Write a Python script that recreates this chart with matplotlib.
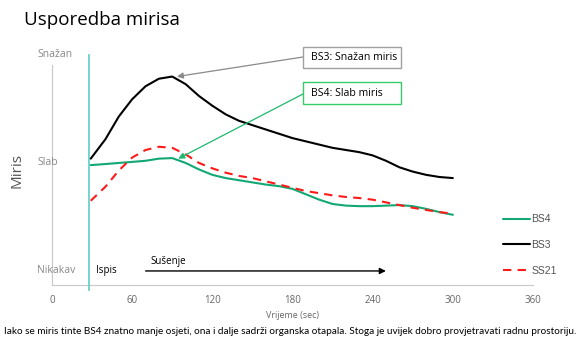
import matplotlib
matplotlib.use("Agg")
import matplotlib.pyplot as plt
from matplotlib.patches import Rectangle
import matplotlib.transforms as mtrans

# ---- data ----
time_s = [29, 40, 50, 60, 70, 80, 90, 100, 110, 120, 130, 140, 150, 160, 170, 180, 190, 200,
          210, 220, 230, 240, 250, 260, 270, 280, 290, 300]
bs4 = [0.98, 0.99, 1.00, 1.01, 1.02, 1.04, 1.045, 1.00, 0.94, 0.89, 0.86, 0.84, 0.82, 0.80,
       0.785, 0.76, 0.71, 0.66, 0.62, 0.605, 0.60, 0.60, 0.605, 0.61, 0.60, 0.575, 0.545, 0.52]
bs3 = [1.04, 1.22, 1.43, 1.59, 1.71, 1.78, 1.80, 1.73, 1.62, 1.53, 1.45, 1.39, 1.35, 1.31,
       1.27, 1.23, 1.20, 1.17, 1.14, 1.12, 1.10, 1.07, 1.02, 0.96, 0.92, 0.89, 0.87, 0.86]
ss21 = [0.65, 0.78, 0.93, 1.05, 1.12, 1.15, 1.14, 1.08, 1.00, 0.95, 0.91, 0.88, 0.86, 0.83,
        0.80, 0.77, 0.74, 0.72, 0.70, 0.685, 0.675, 0.66, 0.635, 0.61, 0.585, 0.565, 0.545, 0.53]
series_names = ["BS4", "BS3", "SS21"]
level_labels = ["Nikakav", "Slab", "Snažan"]
level_values = [0, 1, 2]
x_ticks = [0, 60, 120, 180, 240, 300, 360]
ispis_time = 28
drying_start, drying_end = 68, 252
bs3_peak = (93.5, 1.80)
bs4_peak = (94.5, 1.04)

title = "Usporedba mirisa"
caption = ("Iako se miris tinte BS4 znatno manje osjeti, ona i dalje sadrži organska otapala. "
           "Stoga je uvijek dobro provjetravati radnu prostoriju.")

W, H = 580, 341
fig = plt.figure(figsize=(W / 100, H / 100), dpi=100)
ax = fig.add_axes([52 / W, 1 - 285 / H, 481 / W, 220 / H])

green = "#12a873"
kw = dict(solid_joinstyle="round", solid_capstyle="round")
ax.plot(time_s, bs4, color=green, lw=1.5, label=series_names[0], zorder=4, **kw)
ax.plot(time_s, bs3, color="black", lw=1.5, label=series_names[1], zorder=4, **kw)
ax.plot(time_s, ss21, color="#ff1a1a", lw=1.5, ls=(0, (4, 3)), label=series_names[2], zorder=5)

ax.set_xlim(0, 360)
ax.set_ylim(-0.13, 1.907)
ax.set_xticks(x_ticks)
ax.set_xticklabels([str(t) for t in x_ticks], color="#666666", fontsize=7, family="Open Sans")
ax.tick_params(axis="x", length=0, pad=7)
ax.set_yticks([])
for s in ["top", "right"]:
    ax.spines[s].set_visible(False)
ax.spines["left"].set_color("#c8c8c8")
ax.spines["bottom"].set_color("#c8c8c8")
ax.set_xlabel("Vrijeme (sec)", color="#666666", fontsize=6.5, family="Open Sans", labelpad=4)

trans = mtrans.blended_transform_factory(fig.transFigure, ax.transData)
for lab, v in zip(level_labels, level_values):
    fig.text(37 / W, v, lab, transform=trans, ha="left", va="center",
             color="#888888", fontsize=7.5, family="Open Sans")
fig.text(17 / W, 1 - 170 / H, "Miris", rotation=90, ha="center", va="center",
         color="#555555", fontsize=11, family="Open Sans")

# Ispis vertical line
ax.plot([ispis_time, ispis_time], [-0.18, 2.0], color="#5ccdc2", lw=1.2, clip_on=False, zorder=3)
ax.text(ispis_time + 5, 0, "Ispis", fontsize=7, family="Open Sans", va="center", ha="left")

# Drying arrow
ax.annotate("", xy=(drying_end, 0), xytext=(drying_start, 0),
            arrowprops=dict(arrowstyle="-|>", color="black", lw=1.0, mutation_scale=9))
ax.text(drying_start + 6, 0.04, "Sušenje", fontsize=7, family="Open Sans", va="bottom", ha="left")

def box(x0, y0, x1, y1, ec, text):
    r = Rectangle((x0, H - y1), x1 - x0, y1 - y0, transform=None, fill=True,
                  facecolor="white", edgecolor=ec, lw=1.0, zorder=10)
    fig.patches.append(r)
    fig.text((x0 + 8) / W, 1 - (y0 + y1) / 2 / H, text, ha="left", va="center",
             fontsize=7.6, family="Open Sans", zorder=11)

ax.annotate("", xy=bs3_peak, xycoords="data", xytext=(303, H - 57), textcoords="figure pixels",
            arrowprops=dict(arrowstyle="-|>", color="#8a8a8a", lw=0.9, mutation_scale=9,
                            shrinkA=0, shrinkB=0), zorder=6, annotation_clip=False)
ax.annotate("", xy=bs4_peak, xycoords="data", xytext=(303, H - 94), textcoords="figure pixels",
            arrowprops=dict(arrowstyle="-|>", color="#1cb86e", lw=0.9, mutation_scale=9,
                            shrinkA=0, shrinkB=0), zorder=6, annotation_clip=False)
box(303, 47, 401, 68, "#a0a0a0", "BS3: Snažan miris")
box(303, 82, 401, 104, "#33cc66", "BS4: Slab miris")

leg = fig.legend(loc="upper left", bbox_to_anchor=(494 / W, 1 - 205 / H), frameon=False,
                 handlelength=2.6, handletextpad=0.1, labelspacing=1.5,
                 prop={"family": "Liberation Sans", "size": 7.5})
for t in leg.get_texts():
    t.set_color("#555555")

fig.text(24 / W, 1 - 20 / H, title, ha="left", va="center", fontsize=13.5, family="Open Sans")
fig.text(4 / W, 1 - 331 / H, caption, ha="left", va="center", fontsize=7.2, family="Lato")

fig.savefig("out.png", dpi=100)
